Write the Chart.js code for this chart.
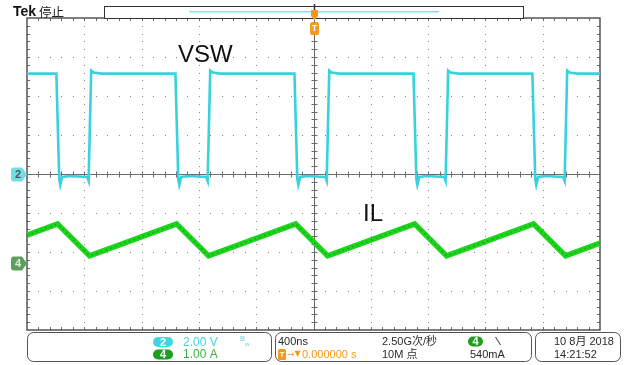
<!DOCTYPE html>
<html><head><meta charset="utf-8">
<script src="https://cdn.jsdelivr.net/npm/chart.js@4/dist/chart.umd.min.js"></script>
<style>html,body{margin:0;padding:0;background:#fff}canvas{display:block}</style>
</head><body>
<canvas id="scope" width="628" height="365"></canvas>
<script>
// Horizontal: 400 ns/div, 10 divisions, trigger point in the centre
const timePerDiv = 400;
const timeDivCount = 10;
// Vertical: 8 divisions
const vertDivCount = 8;

// CH2 — switch node voltage (V)
const vswTimes = [
  -2000, -1795, -1775, -1768, -1755, -1700, -1580, -1570, -1552, -1535, -1480,
  -964, -944, -937, -924, -870, -749, -739, -721, -704, -650,
  -133, -113, -106, -93, -40, 82, 92, 110, 127, 180,
  698, 718, 725, 738, 790, 912, 922, 940, 957, 1010,
  1528, 1548, 1555, 1568, 1620, 1743, 1753, 1771, 1788, 1840, 2000
];
const vswVolts = [
  5.15, 5.15, -0.25, -0.55, -0.15, -0.1, -0.15, -0.35, 5.3, 5.2, 5.15,
  5.15, -0.25, -0.55, -0.15, -0.1, -0.15, -0.35, 5.3, 5.2, 5.15,
  5.15, -0.25, -0.55, -0.15, -0.1, -0.15, -0.35, 5.3, 5.2, 5.15,
  5.15, -0.25, -0.55, -0.15, -0.1, -0.15, -0.35, 5.3, 5.2, 5.15,
  5.15, -0.25, -0.55, -0.15, -0.1, -0.15, -0.35, 5.3, 5.2, 5.15, 5.15
];

// CH4 — inductor current (A)
const ilTimes = [-2000, -1787, -1563, -956, -732, -125, 99, 706, 929, 1536, 1760, 2000];
const ilAmps  = [0.71, 1.0, 0.18, 1.0, 0.18, 1.0, 0.18, 1.0, 0.18, 1.0, 0.18, 0.51];

// channel settings
const ch2VoltsPerDiv = 2.0;
const ch2Position = 0;      // divisions
const ch4AmpsPerDiv = 1.0;
const ch4Position = -2.28;  // divisions

const ch2Color = '#38d2de';
const ch4Color = '#1bd41b';
const orange = '#f39a1c';
const FONT = '"Liberation Sans", "Noto Sans CJK SC", sans-serif';

const vswPoints = vswTimes.map((t, i) => ({x: t, y: vswVolts[i] / ch2VoltsPerDiv + ch2Position}));
const ilPoints = ilTimes.map((t, i) => ({x: t, y: ilAmps[i] / ch4AmpsPerDiv + ch4Position}));

function rrect(ctx, x, y, w, h, r) {
  ctx.beginPath();
  ctx.moveTo(x + r, y);
  ctx.lineTo(x + w - r, y);
  ctx.arcTo(x + w, y, x + w, y + r, r);
  ctx.lineTo(x + w, y + h - r);
  ctx.arcTo(x + w, y + h, x + w - r, y + h, r);
  ctx.lineTo(x + r, y + h);
  ctx.arcTo(x, y + h, x, y + h - r, r);
  ctx.lineTo(x, y + r);
  ctx.arcTo(x, y, x + r, y, r);
  ctx.closePath();
}

function badge(ctx, x, y, w, h, fill, label, color) {
  rrect(ctx, x, y, w, h, h / 2);
  ctx.fillStyle = fill; ctx.fill();
  ctx.fillStyle = color;
  ctx.font = 'bold 11px ' + FONT;
  ctx.textAlign = 'center'; ctx.textBaseline = 'middle';
  ctx.fillText(label, x + w / 2, y + h / 2 + 0.5);
}

function text(ctx, s, x, y, font, color, align) {
  ctx.font = font; ctx.fillStyle = color;
  ctx.textAlign = align || 'left'; ctx.textBaseline = 'middle';
  ctx.fillText(s, x, y);
}

const graticule = {
  id: 'graticule',
  beforeDraw(chart) {
    const ctx = chart.ctx;
    ctx.save();
    ctx.fillStyle = '#fff';
    ctx.fillRect(0, 0, chart.width, chart.height);
    ctx.restore();
  },
  beforeDatasetsDraw(chart) {
    const ctx = chart.ctx, xs = chart.scales.x, ys = chart.scales.y;
    const a = chart.chartArea;
    const half = timeDivCount / 2, vhalf = vertDivCount / 2;
    ctx.save();
    // dotted division lines
    ctx.fillStyle = '#858585';
    for (let i = -half + 1; i < half; i++) {
      if (i === 0) continue;
      const px = Math.round(xs.getPixelForValue(i * timePerDiv));
      for (let k = -vhalf * 5 + 1; k < vhalf * 5; k++) {
        const py = Math.round(ys.getPixelForValue(k / 5));
        ctx.fillRect(px, py, 1, 1);
      }
    }
    for (let j = -vhalf + 1; j < vhalf; j++) {
      if (j === 0) continue;
      const py = Math.round(ys.getPixelForValue(j));
      for (let k = -half * 5 + 1; k < half * 5; k++) {
        const px = Math.round(xs.getPixelForValue(k * timePerDiv / 5));
        ctx.fillRect(px, py, 1, 1);
      }
    }
    // centre cross with minor ticks
    const cx = Math.round(xs.getPixelForValue(0)) + 0.5;
    const cy = Math.round(ys.getPixelForValue(0)) + 0.5;
    ctx.strokeStyle = '#6a6a6a'; ctx.lineWidth = 1;
    ctx.beginPath();
    ctx.moveTo(a.left, cy); ctx.lineTo(a.right, cy);
    ctx.moveTo(cx, a.top); ctx.lineTo(cx, a.bottom);
    for (let k = -half * 5 + 1; k < half * 5; k++) {
      const px = Math.round(xs.getPixelForValue(k * timePerDiv / 5)) + 0.5;
      ctx.moveTo(px, cy - 3); ctx.lineTo(px, cy + 3);
      ctx.moveTo(px, a.top); ctx.lineTo(px, a.top + 3);
      ctx.moveTo(px, a.bottom); ctx.lineTo(px, a.bottom - 3);
    }
    for (let k = -vhalf * 5 + 1; k < vhalf * 5; k++) {
      const py = Math.round(ys.getPixelForValue(k / 5)) + 0.5;
      ctx.moveTo(cx - 3, py); ctx.lineTo(cx + 3, py);
      ctx.moveTo(a.left, py); ctx.lineTo(a.left + 3, py);
      ctx.moveTo(a.right, py); ctx.lineTo(a.right - 3, py);
    }
    ctx.stroke();
    // outer frame
    ctx.strokeStyle = '#555'; ctx.lineWidth = 1.5;
    ctx.strokeRect(a.left, a.top, a.right - a.left, a.bottom - a.top);
    ctx.restore();
  },
  afterDraw(chart) {
    const ctx = chart.ctx, xs = chart.scales.x, ys = chart.scales.y;
    const cx = Math.round(xs.getPixelForValue(0)) + 0.5;
    ctx.save();

    // header
    text(ctx, 'Tek', 13, 12.5, 'bold 14px ' + FONT, '#111');
    text(ctx, '停止', 39, 12.5, '12.5px "Noto Sans CJK SC", sans-serif', '#222');

    // record view bar
    ctx.fillStyle = '#fff';
    ctx.fillRect(104.5, 6.5, 419, 12);
    ctx.strokeStyle = '#333'; ctx.lineWidth = 1;
    ctx.strokeRect(104.5, 6.5, 419, 12);
    ctx.strokeStyle = '#86e2ea'; ctx.lineWidth = 1.6;
    ctx.beginPath(); ctx.moveTo(189, 11.8); ctx.lineTo(439, 11.8); ctx.stroke();

    // trigger position marker
    ctx.strokeStyle = '#333'; ctx.lineWidth = 1.5;
    ctx.beginPath(); ctx.moveTo(cx, 4); ctx.lineTo(cx, 12); ctx.stroke();
    ctx.fillStyle = orange;
    ctx.beginPath();
    ctx.moveTo(cx - 3.5, 10); ctx.lineTo(cx + 3.5, 10); ctx.lineTo(cx + 3.5, 16);
    ctx.lineTo(cx, 20); ctx.lineTo(cx - 3.5, 16); ctx.closePath(); ctx.fill();
    rrect(ctx, cx - 4.5, 22, 9, 13, 2.5); ctx.fillStyle = orange; ctx.fill();
    text(ctx, 'T', cx, 28.5, 'bold 9px ' + FONT, '#fff', 'center');

    // channel ground markers
    const drawMarker = (pos, fill, label, color) => {
      const y = Math.round(ys.getPixelForValue(pos)) + 0.5;
      ctx.beginPath();
      ctx.moveTo(14, y - 7); ctx.lineTo(22, y - 7); ctx.lineTo(27, y);
      ctx.lineTo(22, y + 7); ctx.lineTo(14, y + 7);
      ctx.arcTo(11, y + 7, 11, y + 4, 3); ctx.lineTo(11, y - 4);
      ctx.arcTo(11, y - 7, 14, y - 7, 3); ctx.closePath();
      ctx.fillStyle = fill; ctx.fill();
      text(ctx, label, 18, y + 0.5, 'bold 11px ' + FONT, color, 'center');
    };
    drawMarker(ch2Position, '#72dde5', '2', '#4a5a5c');
    drawMarker(ch4Position, '#5e9e5e', '4', '#d9efd9');

    // trace labels
    text(ctx, 'VSW', 178, 55, '24px ' + FONT, '#111');
    text(ctx, 'IL', 363, 214, '24px ' + FONT, '#111');

    // status bar boxes
    ctx.strokeStyle = '#555'; ctx.lineWidth = 1;
    rrect(ctx, 27.5, 332.5, 244, 29, 6); ctx.stroke();
    rrect(ctx, 275.5, 332.5, 256, 29, 6); ctx.stroke();
    rrect(ctx, 535.5, 332.5, 85, 29, 6); ctx.stroke();

    // vertical settings
    badge(ctx, 153, 337, 20, 10, '#3fd6e2', '2', '#fff');
    text(ctx, '2.00 V', 183, 342.5, '12px ' + FONT, '#45d3e2');
    badge(ctx, 153, 349.5, 20, 10, '#1f9f1f', '4', '#fff');
    text(ctx, '1.00 A', 183, 355, '12px ' + FONT, '#3cb43c');
    text(ctx, 'B', 240, 339.5, 'bold 7px ' + FONT, '#8edfe7');
    text(ctx, 'w', 245, 344, 'bold 6px ' + FONT, '#8edfe7');

    // horizontal / acquisition / trigger settings
    text(ctx, '400ns', 278, 341.5, '11px ' + FONT, '#2a2a2a');
    text(ctx, '2.50G次/秒', 382, 341.5, '11px ' + FONT, '#2a2a2a');
    badge(ctx, 468, 336.5, 15, 10, '#1f9f1f', '4', '#fff');
    ctx.strokeStyle = '#333'; ctx.lineWidth = 1;
    ctx.beginPath(); ctx.moveTo(495.5, 337); ctx.lineTo(500.5, 345); ctx.stroke();
    rrect(ctx, 278, 349, 8, 11, 1.5); ctx.fillStyle = orange; ctx.fill();
    text(ctx, 'T', 282, 355, 'bold 8px ' + FONT, '#fff', 'center');
    text(ctx, '→', 287, 354.5, '9px "DejaVu Sans", sans-serif', orange);
    text(ctx, '▼', 294.5, 354, '8px "DejaVu Sans", sans-serif', orange);
    text(ctx, '0.000000 s', 302, 355, '11px ' + FONT, orange);
    text(ctx, '10M 点', 382, 355, '11px ' + FONT, '#2a2a2a');
    text(ctx, '540mA', 470, 355, '11px ' + FONT, '#2a2a2a');

    // date / time
    text(ctx, '10 8月 2018', 554, 341.5, '11px ' + FONT, '#2a2a2a');
    text(ctx, '14:21:52', 554, 355, '11px ' + FONT, '#2a2a2a');
    ctx.restore();
  }
};

new Chart(document.getElementById('scope'), {
  type: 'line',
  data: {
    datasets: [
      {label: 'CH2', data: vswPoints, borderColor: ch2Color, borderWidth: 2.6,
       pointRadius: 0, tension: 0, order: 2},
      {label: 'CH4', data: ilPoints, borderColor: ch4Color, borderWidth: 5.5,
       pointRadius: 0, tension: 0, order: 1},
      {label: 'CH4 texture', data: ilPoints, borderColor: 'rgba(10,110,10,0.75)', borderWidth: 1.2,
       borderDash: [1, 4], pointRadius: 0, tension: 0, order: 0}
    ]
  },
  options: {
    responsive: false,
    animation: false,
    devicePixelRatio: 1,
    layout: {padding: {left: 27, right: 28, top: 18, bottom: 35}},
    scales: {
      x: {type: 'linear', display: false,
          min: -timePerDiv * timeDivCount / 2, max: timePerDiv * timeDivCount / 2},
      y: {type: 'linear', display: false, min: -vertDivCount / 2, max: vertDivCount / 2}
    },
    plugins: {legend: {display: false}, tooltip: {enabled: false}}
  },
  plugins: [graticule]
});
</script>
</body></html>
